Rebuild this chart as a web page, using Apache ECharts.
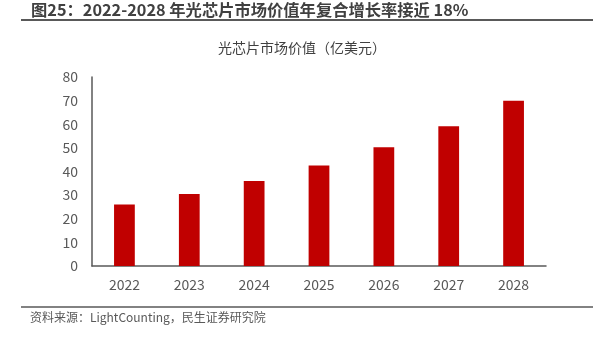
<!DOCTYPE html>
<html><head><meta charset="utf-8">
<script src="https://cdn.jsdelivr.net/npm/echarts@6/dist/echarts.min.js"></script>
<style>html,body{margin:0;padding:0;background:#fff}#c{width:604px;height:340px}</style>
</head><body><div id="c"></div>
<script>
const categories = ['2022','2023','2024','2025','2026','2027','2028'];
const values = [26, 30.5, 36, 42.5, 50.3, 59.2, 70];
const yTicks = [0, 10, 20, 30, 40, 50, 60, 70, 80];
const titleText = '图25：2022-2028 年光芯片市场价值年复合增长率接近 18%';
const chartTitle = '光芯片市场价值（亿美元）';
const sourceText = '资料来源：LightCounting，民生证券研究院';

const font = '"Noto Sans CJK SC","Microsoft YaHei",sans-serif';
const chart = echarts.init(document.getElementById('c'), null, {renderer:'canvas'});
chart.setOption({
  animation:false,
  textStyle:{fontFamily:font},
  graphic:[
    {type:'text', left:31, top:2, style:{text:titleText, font:'bold 16.3px '+font, fill:'#404040'}},
    {type:'line', shape:{x1:21, y1:20, x2:593, y2:20}, style:{stroke:'#595959', lineWidth:2}},
    {type:'line', shape:{x1:21, y1:307, x2:593, y2:307}, style:{stroke:'#595959', lineWidth:1.5}},
    {type:'text', left:30, top:311, style:{text:sourceText, font:'12px '+font, fill:'#595959'}}
  ],
  title:{text:chartTitle, left:'center', top:36, textStyle:{fontSize:14, fontWeight:'normal', color:'#404040', fontFamily:font}},
  grid:{left:92, right:58, top:77, bottom:74},
  xAxis:{type:'category', data:categories,
    axisLine:{lineStyle:{color:'#595959', width:1.5}},
    axisTick:{show:false},
    axisLabel:{fontSize:14, color:'#595959', margin:12, fontFamily:font}},
  yAxis:{type:'value', min:yTicks[0], max:yTicks[yTicks.length-1], interval:10,
    axisLine:{show:true, lineStyle:{color:'#595959', width:1.5}},
    axisTick:{show:false}, splitLine:{show:false},
    axisLabel:{fontSize:14, color:'#595959', margin:14, fontFamily:font}},
  series:[{type:'bar', data:values, barWidth:'32%', itemStyle:{color:'#C00000'}}]
});
</script></body></html>
